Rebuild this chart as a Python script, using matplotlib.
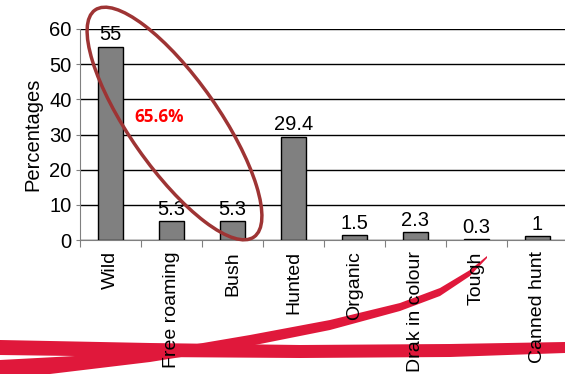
import numpy as np
import matplotlib.pyplot as plt
from matplotlib.patches import Ellipse, PathPatch
from matplotlib.path import Path
from matplotlib.transforms import Affine2D

plt.rcParams['font.family'] = ['Liberation Sans', 'DejaVu Sans']

categories = ['Wild', 'Free roaming', 'Bush', 'Hunted', 'Organic',
              'Drak in colour', 'Tough', 'Canned hunt']
values = [55, 5.3, 5.3, 29.4, 1.5, 2.3, 0.3, 1]
value_labels = ['55', '5.3', '5.3', '29.4', '1.5', '2.3', '0.3', '1']

W, H = 565, 374
FS = 14
fig = plt.figure(figsize=(W / 100, H / 100), dpi=100)
ax = fig.add_axes([80 / W, (H - 240) / H, 488 / W, 211 / H])
ax.patch.set_alpha(0)

x = np.arange(len(categories))
ax.bar(x, values, width=0.4, color='#808080', edgecolor='black', linewidth=1, zorder=3)
for xi, v, lab in zip(x, values, value_labels):
    ax.text(xi, v + 0.6, lab, ha='center', va='bottom', fontsize=14.5, zorder=4)

ax.set_xlim(-0.5, len(categories) - 0.5)
ax.set_ylim(0, 60)
ax.set_yticks(range(0, 61, 10))
ax.yaxis.grid(True, color='black', linewidth=1)
ax.set_axisbelow(True)
for s in ['top', 'right']:
    ax.spines[s].set_visible(False)
ax.spines['left'].set_color('#808080')
ax.spines['bottom'].set_color('#808080')
ax.tick_params(axis='y', labelsize=14.5, length=3, pad=3, color='#808080')

# category labels between tick marks at the bin edges
ax.set_xticks(np.arange(-0.5, len(categories), 1.0))
ax.set_xticklabels([])
ax.tick_params(axis='x', length=5, color='#808080')
for xi, c in zip(x, categories):
    ax.text(xi, -3.2, c, rotation=90, ha='center', va='top', fontsize=FS, zorder=5)

ax.set_ylabel('Percentages', fontsize=14.5, labelpad=5)

# annotation
ax.text(0.8, 35, '65.6%', color='red', fontweight='bold', fontsize=12.3,
        ha='center', va='center', family=['Open Sans', 'DejaVu Sans'], zorder=5)

# pixel space (y up) -> figure
tr = Affine2D().scale(1 / W, 1 / H) + fig.transFigure

# red ellipse around the first three bars
ell = Ellipse((174.5, H - 123.5), 277, 89, angle=-55, fill=False,
              edgecolor='#9E3434', linewidth=2.5, transform=tr, zorder=10)
fig.patches.append(ell)


def shape(top, bot):
    pts = [(a, H - b) for a, b in top + bot]
    return Path(pts + [pts[0]], closed=True)


# decorative red swoosh at the bottom, behind the labels
red = '#E0183B'
band = shape([(0, 340), (150, 343), (300, 345), (450, 344), (565, 342)],
             [(565, 353), (450, 357), (300, 358), (150, 357), (0, 355)])
rise = shape([(0, 360), (150, 352), (250, 335), (330, 320), (400, 303),
              (440, 288), (470, 270), (487, 256)],
             [(487, 258), (470, 276), (440, 296), (400, 311), (330, 330),
              (250, 346), (150, 362), (0, 380)])
for p in (band, rise):
    fig.patches.append(PathPatch(p, facecolor=red, edgecolor='none',
                                 transform=tr, zorder=-1))

fig.savefig('out.png', dpi=100)
